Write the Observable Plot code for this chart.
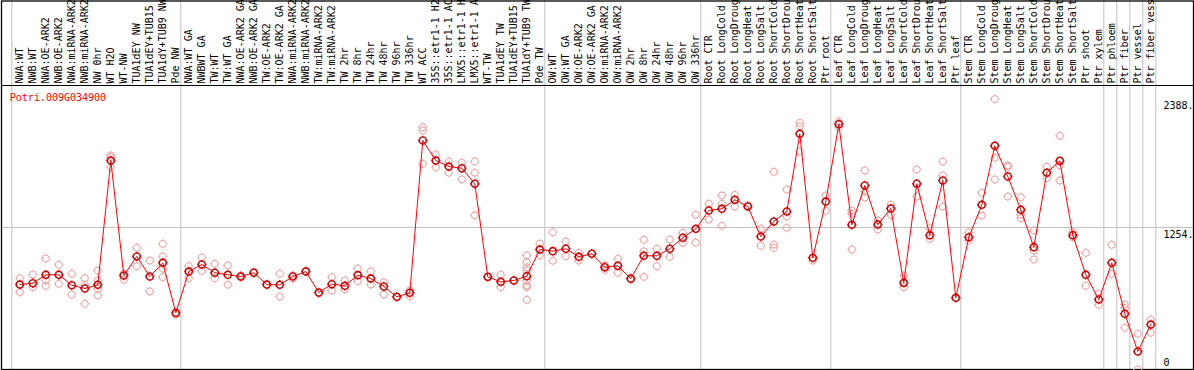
<!DOCTYPE html>
<html><head><meta charset="utf-8">
<script src="https://cdn.jsdelivr.net/npm/d3@7"></script>
<script src="https://cdn.jsdelivr.net/npm/@observablehq/plot@0.6"></script>
<style>html,body{margin:0;padding:0;background:#fff;overflow:hidden}#chart svg{display:block}</style>
</head><body><div id="chart"></div>
<script>
const geneTitle = "Potri.009G034900";

const labels = [
  "NWA:WT","NWB:WT","NWA:OE-ARK2","NWB:OE-ARK2","NWA:miRNA-ARK2","NWB:miRNA-ARK2","NW 0hr","WT H2O","WT-NW","TUA1dEY NW","TUA1dEY+TUB15","TUA1dY+TUB9 NW","Pde NW",
  "NWA:WT GA","NWBWT GA","TW:WT","TW:WT GA","NWA:OE-ARK2 GA","NWB:OE-ARK2 GA","TW:OE-ARK2","TW:OE-ARK2 GA","NWA:miRNA-ARK2","NWB:miRNA-ARK2","TW:miRNA-ARK2","TW:miRNA-ARK2",
  "TW 2hr","TW 8hr","TW 24hr","TW 48hr","TW 96hr","TW 336hr","WT ACC","35S::etr1-1 H2","35S::etr1-1 AC","LMX5::etr1-1 H","LMX5::etr1-1 A","WT-TW","TUA1dEY TW","TUA1dEY+TUB15","TUA1dY+TUB9 TW","Pde TW",
  "OW:WT","OW:WT GA","OW:OE-ARK2","OW:OE-ARK2 GA","OW:miRNA-ARK2","OW:miRNA-ARK2","OW 2hr","OW 8hr","OW 24hr","OW 48hr","OW 96hr","OW 336hr",
  "Root CTR","Root LongCold","Root LongDroug","Root LongHeat","Root LongSalt","Root ShortCold","Root ShortDrou","Root ShortHeat","Root ShortSalt","Ptr root",
  "Leaf CTR","Leaf LongCold","Leaf LongDroug","Leaf LongHeat","Leaf LongSalt","Leaf ShortCold","Leaf ShortDrou","Leaf ShortHeat","Leaf ShortSalt","Ptr leaf",
  "Stem CTR","Stem LongCold","Stem LongDroug","Stem LongHeat","Stem LongSalt","Stem ShortCold","Stem ShortDrou","Stem ShortHeat","Stem ShortSalt","Ptr shoot","Ptr xylem",
  "Ptr phloem","Ptr fiber","Ptr vessel","Ptr fiber vess"
];

const means = [
  750,762,836,836,744,715,748,1845,830,998,821,942,500,
  865,927,854,836,821,854,750,748,821,865,680,753,739,833,803,733,642,677,2022,1845,1792,1777,1640,818,774,786,824,1059,
  1045,1066,995,1022,903,915,803,1004,1004,1066,1163,1242,
  1404,1419,1498,1439,1174,1307,1395,2081,986,1483,
  2166,1278,1625,1280,1421,765,1640,1186,1669,633,
  1168,1454,1975,1704,1410,1080,1737,1842,1186,836,618,
  942,492,159,397
];

const replicates = [
  [806,750,682],[839,727],[980,786,739],[924,757],[845,660],[806,748,580],[874,786,712,653],[1889,1874,1786],[845,792],[1074,912],[962,689],[1110,998,889,815],[483],
  [912,806],[989,871],[933,806],[918,748],[830,815],[860],[745],[845,645],[801,830],[870],[672],[815,697],[786,706],[892,780],[865,750],[771,662],[642],[697,647],
  [2139,2110,1816],[1898,1786],[1836,1737],[1825,1678],[1836,1737,1360],[818],[836,727],[786],[1007,947,903,874,786,742,727,615],[1110,1007],
  [1212,960],[1130,1000],[1030,962],[1022],[918,880],[977,854],[792],[1145,1044,818],[1066,912],[1148,995],[1207,1119],[1366,1119],
  [1463,1324],[1536,1463,1269],[1542,1439],[1450],[1242,1092],[1745,1104,1074],[1589,1351,1251],[2178,2148,1925],[962],[1536,1401],
  [2190,2139],[1404,1375,1059],[1757,1572,1519],[1316,1236],[1454,1366],[830,727],[1766,1527],[1248,1154],[1836,1713,1439],[633],
  [1212,1139],[1560,1360],[2388,1869,1678],[1801,1790,1527],[1521,1368,1336],[1227,1051,971],[1790,1689],[2063,1801,1669],[1212,1168],[1030,739],[668,571],
  [1101,845],[574,541,368],[315,0],[439,324]
];

// first index of each boxed group (the last entry closes the final box)
const groupStarts = [0,13,41,53,63,73,84,85,86,87,88];
const maxValue = 2388;
const midValue = 1254;
const yTicks = [0, midValue, maxValue];

const yTop = maxValue * 1.05;
const idx = d3.range(labels.length);
const meanRows = idx.map(i => ({i, v: means[i]}));
const repRows = idx.flatMap(i => replicates[i].map(v => ({i, v})));

const ringTicks = {
  draw(ctx, size) {
    const r = Math.sqrt(size / Math.PI), t = 1.1;
    ctx.moveTo(r, 0); ctx.arc(0, 0, r, 0, 2 * Math.PI);
    ctx.moveTo(0, -r); ctx.lineTo(0, -r - t);
    ctx.moveTo(0, r); ctx.lineTo(0, r + t);
    ctx.moveTo(-r, 0); ctx.lineTo(-r - t, 0);
    ctx.moveTo(r, 0); ctx.lineTo(r + t, 0);
  }
};

const font = "DejaVu Sans Mono";
const chart = Plot.plot({
  width: 1194,
  height: 370,
  marginTop: 0.5, marginLeft: 1, marginRight: 1, marginBottom: 1,
  style: {fontFamily: font, fontSize: "10px", background: "#fff", overflow: "hidden"},
  x: {type: "linear", domain: [0, labels.length - 1], range: [19.3, 1150.3], axis: null},
  y: {type: "linear", domain: [0, yTop], range: [369, 85], axis: null},
  marks: [
    Plot.ruleY([midValue], {stroke: "#c0c0c0", strokeWidth: 1}),
    Plot.ruleX(groupStarts, {x: d => d, dx: -8, stroke: "#c0c0c0", strokeWidth: 1}),
    Plot.ruleY([yTop], {stroke: "#000", strokeWidth: 1}),
    Plot.frame({stroke: "#000", strokeWidth: 1.3}),
    Plot.text(idx, {x: d => d, y: () => yTop, text: d => labels[d], rotate: -90, textAnchor: "start", dy: -2, fill: "#000", fontFamily: font, fontSize: 10}),
    Plot.text([geneTitle], {x: () => 0, y: () => yTop, text: d => d, textAnchor: "start", dx: -10, dy: 12, fill: "#ff0000", fontFamily: font, fontSize: 10}),
    Plot.text(yTicks.filter(d => d > 0), {y: d => d, frameAnchor: "right", text: d => d + ".", textAnchor: "start", dx: -30, dy: 7, fill: "#000", fontFamily: font, fontSize: 10}),
    Plot.text(yTicks.filter(d => d === 0), {y: d => d, frameAnchor: "right", text: d => String(d), textAnchor: "start", dx: -30, dy: -7, fill: "#000", fontFamily: font, fontSize: 10}),
    Plot.dot(repRows, {x: "i", y: "v", r: 3.5, symbol: ringTicks, stroke: "#f0a0a0", strokeWidth: 1, fill: "none"}),
    Plot.line(meanRows, {x: "i", y: "v", stroke: "#ff0000", strokeWidth: 1}),
    Plot.dot(meanRows, {x: "i", y: "v", r: 3.6, symbol: ringTicks, stroke: "#ff0000", strokeWidth: 1.4, fill: "none"}),
    Plot.dot(meanRows, {x: "i", y: "v", r: 3.2, stroke: "#000", strokeWidth: 0.5, strokeOpacity: 0.7, fill: "none"})
  ]
});
document.getElementById("chart").append(chart);
</script>
</body></html>
